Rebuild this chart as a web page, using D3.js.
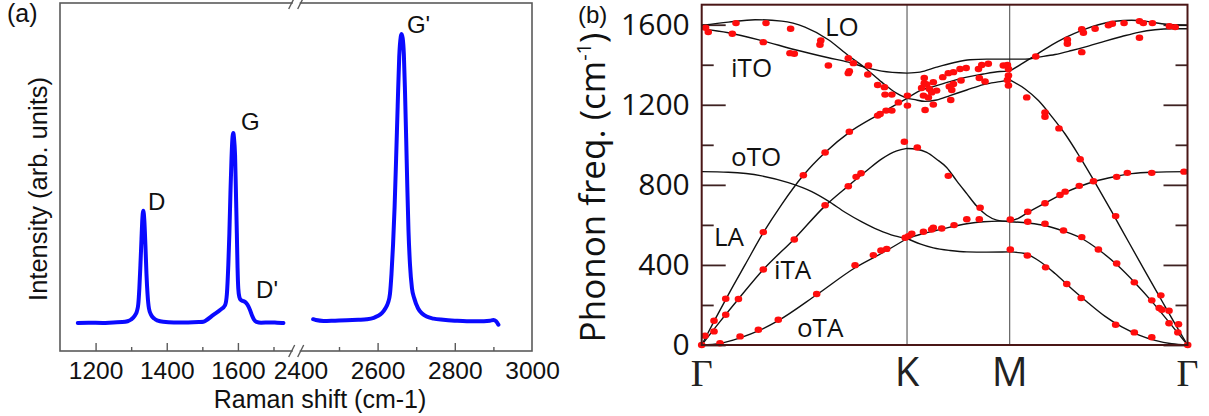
<!DOCTYPE html>
<html>
<head>
<meta charset="utf-8">
<script src="https://cdn.jsdelivr.net/npm/d3@7"></script>
<style>
  body { margin: 0; background: #fff; }
  svg { display: block; }
</style>
</head>
<body>
<svg id="fig" width="1209" height="416"></svg>
<script>
// ---------------- Panel (a): Raman spectrum ----------------
const ramanLowShift = [1150, 1180, 1220, 1250, 1275, 1290, 1300, 1310, 1316, 1320, 1323, 1326, 1329, 1331, 1334, 1337,
  1340, 1343, 1346, 1350, 1356, 1365, 1375, 1390, 1420, 1460, 1490, 1503, 1512, 1531, 1550, 1564, 1569, 1573, 1576,
  1579, 1582, 1585, 1587, 1589, 1592, 1595, 1597, 1599, 1601, 1604, 1608, 1614, 1620, 1627, 1634, 1640, 1645, 1652,
  1665, 1690, 1710, 1728];
const ramanLowIntensity = [0.000, 0.001, 0.000, 0.002, 0.003, 0.006, 0.012, 0.025, 0.040, 0.065, 0.12, 0.20, 0.29, 0.35, 0.388, 0.355,
  0.27, 0.17, 0.10, 0.05, 0.028, 0.015, 0.008, 0.004, 0.002, 0.002, 0.003, 0.004, 0.010, 0.028, 0.045, 0.062, 0.10, 0.20, 0.31,
  0.45, 0.57, 0.645, 0.657, 0.64, 0.58, 0.42, 0.31, 0.19, 0.12, 0.09, 0.080, 0.076, 0.073, 0.063, 0.045, 0.025, 0.012, 0.004,
  0.001, 0.002, 0.001, 0.000];
const ramanHighShift = [2433, 2440, 2460, 2490, 2520, 2550, 2572, 2590, 2600, 2611, 2620, 2627, 2632, 2636, 2640, 2644,
  2648, 2652, 2656, 2660, 2662, 2665, 2668, 2671, 2674, 2677, 2680, 2684, 2689, 2695, 2705, 2716, 2727, 2745, 2770,
  2800, 2831, 2860, 2891, 2900, 2907, 2913];
const ramanHighIntensity = [0.013, 0.010, 0.007, 0.008, 0.009, 0.011, 0.013, 0.018, 0.024, 0.034, 0.050, 0.070, 0.10, 0.17, 0.27, 0.40,
  0.57, 0.75, 0.92, 0.99, 1.0, 0.985, 0.93, 0.80, 0.64, 0.47, 0.32, 0.20, 0.12, 0.085, 0.050, 0.032, 0.022, 0.015, 0.011,
  0.008, 0.006, 0.006, 0.008, 0.010, 0.006, -0.006];

const ramanMajorLow = [1200, 1400, 1600];
const ramanMinorLow = [1300, 1500, 1700];
const ramanMajorHigh = [2400, 2600, 2800, 3000];
const ramanMinorHigh = [2500, 2700, 2900];

const peakNames = ["D", "G", "D'", "G'"];
const peakLabelShift = [1347, 1609, 1651, 2676];
const peakLabelIntensity = [0.391, 0.668, 0.087, 1.003];

// ---------------- Panel (b): phonon dispersion ----------------
const symPointQ = [0, 1, 1.5, 2.366];
const symPointName = ["Γ", "K", "M", "Γ"];
const freqMajorTicks = [0, 400, 800, 1200, 1600];
const freqMinorTicks = [200, 600, 1000, 1400];

const loQ = [0, .13, .26, .39, .503, .617, .714, .796, .877, .942, 1.0, 1.063, 1.128, 1.209, 1.291, 1.372, 1.453, 1.5,
  1.558, 1.623, 1.688, 1.770, 1.851, 1.932, 2.013, 2.094, 2.159, 2.241, 2.366];
const loFreq = [1597, 1613, 1625, 1618, 1588, 1525, 1446, 1384, 1313, 1262, 1232, 1271, 1291, 1316, 1338, 1354, 1366, 1368,
  1404, 1446, 1488, 1535, 1572, 1600, 1617, 1622, 1618, 1605, 1597];

const itoQ = [0, .13, .292, .455, .617, .714, .796, .877, 1.0, 1.063, 1.144, 1.226, 1.307, 1.388, 1.5,
  1.575, 1.640, 1.721, 1.802, 1.883, 1.965, 2.046, 2.127, 2.208, 2.289, 2.366];
const itoFreq = [1580, 1560, 1521, 1475, 1435, 1413, 1388, 1368, 1358, 1363, 1388, 1410, 1425, 1428, 1428,
  1428, 1438, 1451, 1471, 1493, 1518, 1541, 1562, 1575, 1580, 1580];

const laQ = [0, .065, .130, .211, .300, .390, .495, .601, .722, .861, 1.0, 1.031, 1.088, 1.144, 1.209, 1.291, 1.372, 1.453, 1.5,
  1.575, 1.640, 1.705, 1.770, 1.843, 1.916, 1.997, 2.078, 2.159, 2.241, 2.306, 2.366];
const laFreq = [0, 128, 252, 400, 561, 703, 848, 962, 1065, 1151, 1232, 1227, 1217, 1224, 1246, 1274, 1301, 1316, 1324,
  1279, 1221, 1141, 1054, 937, 811, 666, 517, 369, 221, 104, 0];

const itaQ = [0, .09, .179, .300, .451, .601, .714, .80, .877, .95, 1.0, 1.047, 1.096, 1.144, 1.193, 1.242, 1.291, 1.339, 1.388, 1.437, 1.5,
  1.591, 1.672, 1.762, 1.851, 1.932, 2.021, 2.111, 2.192, 2.273, 2.366];
const itaFreq = [0, 118, 230, 377, 530, 695, 795, 868, 930, 970, 982, 978, 962, 928, 887, 820, 756, 694, 648, 624, 616,
  609, 597, 569, 532, 477, 402, 310, 218, 118, 0];

const otoQ = [0, .13, .292, .422, .536, .615, .70, .78, .86, .94, 1.0, 1.063, 1.128, 1.209, 1.291, 1.372, 1.453, 1.5,
  1.542, 1.591, 1.672, 1.753, 1.843, 1.916, 2.013, 2.094, 2.192, 2.366];
const otoFreq = [866, 863, 845, 811, 766, 720, 662, 615, 575, 545, 532, 552, 569, 589, 606, 616, 619, 619,
  633, 664, 709, 753, 793, 818, 841, 856, 863, 866];

const otaQ = [0, .089, .187, .281, .375, .560, .747, .901, 1.0, 1.063, 1.128, 1.209, 1.291, 1.388, 1.5,
  1.575, 1.640, 1.721, 1.802, 1.883, 1.965, 2.046, 2.127, 2.208, 2.289, 2.366];
const otaFreq = [0, 8, 36, 73, 123, 251, 386, 472, 532, 505, 485, 472, 465, 464, 465,
  457, 422, 357, 281, 210, 143, 90, 51, 23, 6, 0];

const branchNames = ["LO", "iTO", "oTO", "LA", "iTA", "oTA"];
const branchLabelQ = [0.600, 0.143, 0.143, 0.060, 0.352, 0.464];
const branchLabelFreq = [1543, 1339, 895, 495, 330, 40];

// measured points
const expQ = [.019, .032, .167, .313, .433, .149, .300, .580, .576, .430, .451, .617, .714, .739, .719, .714, .812, .809,
  .857, .890, .893, .926, .958, .857, .869, .898, .926, .719, .601, .495, .300, .117, .060, .016, 0, .117, .179, .060,
  .300, .451, .601, .714, .752, .776, .987, .089, .187, .276, .373, .560, .747, .836, .873, .901, .991, 1.007,
  1.002, 1.002, 1.084, 1.084, 1.071, 1.096, 1.128, 1.109, 1.080, 1.120, 1.144, 1.104, 1.088, 1.128, 1.201, 1.174,
  1.226, 1.258, 1.288, 1.226, 1.206, 1.218, 1.263, 1.213, 1.348, 1.364, 1.396, 1.352, 1.380, 1.469, 1.489, 1.494,
  1.494, 1.494, 1.489, 1.050, 1.201, 1.356, 1.503, 1.023, 1.080, 1.120, 1.128, 1.169, 1.229, 1.291, 1.352, 1.503,
  1.583, 1.672, 1.672, 1.740, 1.843, 2.016, 2.107, 2.192, 2.236, 2.228, 2.241, 2.276, 2.276, 2.322, 2.319, 2.367,
  1.627, 1.851, 1.781, 1.781, 1.851, 1.859, 1.916, 1.981, 2.000, 2.057, 2.132, 2.151, 2.195, 2.132, 2.278, 2.306,
  1.588, 1.672, 1.745, 1.770, 1.839, 1.908, 2.021, 2.073, 2.192, 2.349, 1.588, 1.672, 1.762, 1.851, 1.932, 2.021,
  1.586, 1.675, 1.778, 1.848, 2.016, 2.107, 2.192];
const expFreq = [1585, 1563, 1608, 1608, 1580, 1555, 1513, 1521, 1500, 1458, 1455, 1396, 1433, 1408, 1368, 1358, 1396, 1351,
  1299, 1288, 1251, 1251, 1212, 1146, 1154, 1171, 1171, 1065, 962, 848, 564, 231, 121, 46, 0, 151, 230, 68,
  377, 527, 698, 793, 840, 858, 1015, 9, 43, 76, 126, 255, 399, 449, 472, 480, 536, 544,
  1246, 1196, 1334, 1308, 1284, 1301, 1313, 1279, 1246, 1262, 1271, 1237, 1174, 1201, 1358, 1338,
  1363, 1379, 1384, 1304, 1291, 1274, 1321, 1224, 1379, 1399, 1405, 1334, 1316, 1396, 1399, 1379,
  1346, 1296, 1324, 987, 845, 686, 627, 556, 566, 577, 586, 582, 599, 628, 628, 477,
  1237, 1162, 1140, 1082, 928, 644, 313, 223, 248, 185, 176, 171, 109, 104, 63, 0,
  1441, 1463, 1525, 1505, 1577, 1560, 1580, 1597, 1605, 1608, 1618, 1608, 1608, 1535, 1592, 1588,
  666, 708, 749, 766, 795, 818, 840, 860, 860, 866, 616, 606, 572, 539, 477, 407,
  447, 388, 305, 235, 101, 63, 39];

// ============================================================
const svg = d3.select("#fig");
const sansA = "'Liberation Sans', Arial, sans-serif";
const sansB = "'Open Sans', 'Noto Sans', sans-serif";

// ----- Panel (a) -----
const A = { left: 60, right: 532, top: 3, bottom: 351, breakL: 292, breakR: 300.4 };
const xLow = d3.scaleLinear().domain([1100, 1752]).range([A.left, A.breakL]);
const xHigh = d3.scaleLinear().domain([2400, 3000]).range([A.breakR, A.right]);
const yInt = d3.scaleLinear().domain([-0.097, 1.107]).range([A.bottom, A.top]);

const ga = svg.append("g");
const frameA = "#5a5a5a";

// spectrum traces
const lowData = ramanLowShift.map((s, i) => [s, ramanLowIntensity[i]]);
const highData = ramanHighShift.map((s, i) => [s, ramanHighIntensity[i]]);
const specLine = xs => d3.line().x(d => xs(d[0])).y(d => yInt(d[1])).curve(d3.curveMonotoneX);
[[lowData, xLow], [highData, xHigh]].forEach(([data, xs]) => {
  ga.append("path").datum(data).attr("d", specLine(xs))
    .attr("fill", "none").attr("stroke", "#0a0aff").attr("stroke-width", 4)
    .attr("stroke-linejoin", "round").attr("stroke-linecap", "round");
});

// frame
ga.append("rect").attr("x", A.left).attr("y", A.top)
  .attr("width", A.right - A.left).attr("height", A.bottom - A.top)
  .attr("fill", "none").attr("stroke", frameA).attr("stroke-width", 1.6);

// axis break on bottom and top edges
const breakMid = (A.breakL + A.breakR) / 2;
[A.bottom, A.top].forEach(yb => {
  ga.append("rect").attr("x", breakMid - 3.5).attr("y", yb - 2).attr("width", 7).attr("height", 4).attr("fill", "#fff");
  [breakMid - 4.5, breakMid + 4.5].forEach(cx => {
    ga.append("line").attr("x1", cx - 3).attr("y1", yb + 6).attr("x2", cx + 3).attr("y2", yb - 6)
      .attr("stroke", frameA).attr("stroke-width", 1.4);
  });
});

function styleAxisA(g) {
  g.select(".domain").remove();
  g.selectAll("line").attr("stroke", frameA).attr("stroke-width", 1.4);
  g.selectAll("text").attr("font-family", sansA).attr("font-size", 24.5).attr("fill", "#111");
}
ga.append("g").attr("transform", `translate(0,${A.bottom})`)
  .call(d3.axisBottom(xLow).tickValues(ramanMajorLow).tickSize(-8).tickPadding(11).tickFormat(d3.format("d")))
  .call(styleAxisA);
ga.append("g").attr("transform", `translate(0,${A.bottom})`)
  .call(d3.axisBottom(xLow).tickValues(ramanMinorLow).tickSize(-4).tickFormat(""))
  .call(styleAxisA);
const hiAxis = ga.append("g").attr("transform", `translate(0,${A.bottom})`)
  .call(d3.axisBottom(xHigh).tickValues(ramanMajorHigh).tickSize(-8).tickPadding(11).tickFormat(d3.format("d")))
  .call(styleAxisA);
hiAxis.selectAll(".tick").filter(d => d === 2400 || d === 3000).select("line").remove();
ga.append("g").attr("transform", `translate(0,${A.bottom})`)
  .call(d3.axisBottom(xHigh).tickValues(ramanMinorHigh).tickSize(-4).tickFormat(""))
  .call(styleAxisA);

ga.append("text").attr("x", 320).attr("y", 408).attr("text-anchor", "middle")
  .attr("font-family", sansA).attr("font-size", 25).attr("fill", "#111").text("Raman shift (cm-1)");
ga.append("text").attr("transform", "translate(47,189) rotate(-90)").attr("text-anchor", "middle")
  .attr("font-family", sansA).attr("font-size", 25.5).attr("fill", "#111").text("Intensity (arb. units)");
ga.append("text").attr("x", 7).attr("y", 22)
  .attr("font-family", sansA).attr("font-size", 25).attr("fill", "#111").text("(a)");

peakNames.forEach((name, i) => {
  const xs = peakLabelShift[i] < 2000 ? xLow : xHigh;
  ga.append("text").attr("x", xs(peakLabelShift[i])).attr("y", yInt(peakLabelIntensity[i]))
    .attr("font-family", sansA).attr("font-size", 24).attr("fill", "#111").text(name);
});

// ----- Panel (b) -----
const B = { left: 701.7, right: 1187.5, top: 4.7, bottom: 345 };
const xq = d3.scaleLinear().domain([0, 2.366]).range([B.left, B.right]);
const yf = d3.scaleLinear().domain([0, 1700]).range([B.bottom, B.top]);
const gb = svg.append("g");
const frameB = "#4a1616";
const tickB = "#3e2222";

// high-symmetry vertical lines
gb.selectAll("line.sym").data(symPointQ.slice(1, 3)).enter().append("line")
  .attr("x1", d => xq(d)).attr("x2", d => xq(d)).attr("y1", B.top).attr("y2", B.bottom)
  .attr("stroke", "#555").attr("stroke-width", 1.1);

// ticks inside on both sides
function styleAxisB(g, withText) {
  g.select(".domain").remove();
  g.selectAll("line").attr("stroke", tickB).attr("stroke-width", 1.8);
  if (withText) g.selectAll("text").attr("font-family", sansB).attr("font-size", 30).attr("fill", "#111");
}
gb.append("g").attr("transform", `translate(${B.left},0)`)
  .call(d3.axisLeft(yf).tickValues(freqMajorTicks).tickSize(-24).tickPadding(12).tickFormat(d3.format("d")))
  .call(g => styleAxisB(g, true));
gb.append("g").attr("transform", `translate(${B.left},0)`)
  .call(d3.axisLeft(yf).tickValues(freqMinorTicks).tickSize(-12).tickFormat(""))
  .call(g => styleAxisB(g, false));
gb.append("g").attr("transform", `translate(${B.right},0)`)
  .call(d3.axisRight(yf).tickValues(freqMajorTicks).tickSize(-24).tickFormat(""))
  .call(g => styleAxisB(g, false));
gb.append("g").attr("transform", `translate(${B.right},0)`)
  .call(d3.axisRight(yf).tickValues(freqMinorTicks).tickSize(-12).tickFormat(""))
  .call(g => styleAxisB(g, false));

// dispersion branches, drawn piecewise between high-symmetry points
const branches = [[loQ, loFreq], [itoQ, itoFreq], [laQ, laFreq], [itaQ, itaFreq], [otoQ, otoFreq], [otaQ, otaFreq]];
const bandLine = d3.line().x(d => xq(d[0])).y(d => yf(d[1])).curve(d3.curveMonotoneX);
branches.forEach(([qs, fs]) => {
  const pts = qs.map((q, i) => [q, fs[i]]);
  for (let s = 0; s < symPointQ.length - 1; s++) {
    const lo = symPointQ[s] - 1e-6, hi = symPointQ[s + 1] + 1e-6;
    const seg = pts.filter(p => p[0] >= lo && p[0] <= hi);
    gb.append("path").datum(seg).attr("d", bandLine)
      .attr("fill", "none").attr("stroke", "#111").attr("stroke-width", 1.4);
  }
});

// measured points
gb.selectAll("ellipse.exp").data(expQ.map((q, i) => [q, expFreq[i]])).enter().append("ellipse")
  .attr("cx", d => xq(d[0])).attr("cy", d => yf(d[1])).attr("rx", 3.8).attr("ry", 3.2)
  .attr("fill", "#ff0d0d");

// frame
gb.append("rect").attr("x", B.left).attr("y", B.top)
  .attr("width", B.right - B.left).attr("height", B.bottom - B.top)
  .attr("fill", "none").attr("stroke", frameB).attr("stroke-width", 2);

// branch names
branchNames.forEach((n, i) => {
  gb.append("text").attr("x", xq(branchLabelQ[i])).attr("y", yf(branchLabelFreq[i]))
    .attr("font-family", sansB).attr("font-size", 26).attr("fill", "#111").text(n);
});

// high-symmetry labels
symPointName.forEach((n, i) => {
  const isGamma = n === "Γ";
  gb.append("text").attr("x", xq(symPointQ[i])).attr("y", 386).attr("text-anchor", "middle")
    .attr("font-family", isGamma ? "'Liberation Serif', 'DejaVu Serif', serif" : sansB)
    .attr("font-size", isGamma ? 38 : 40).attr("fill", "#222").text(n);
});

// y-axis title
const yt = gb.append("text").attr("transform", "translate(605,187.5) rotate(-90)").attr("text-anchor", "middle")
  .attr("font-family", sansB).attr("font-size", 35).attr("fill", "#111");
yt.append("tspan").text("Phonon freq. (cm");
yt.append("tspan").attr("font-size", 20).attr("dy", -14).text("-1");
yt.append("tspan").attr("dy", 14).text(")");

gb.append("text").attr("x", 578).attr("y", 23)
  .attr("font-family", sansA).attr("font-size", 24).attr("fill", "#111").text("(b)");
</script>
</body>
</html>
